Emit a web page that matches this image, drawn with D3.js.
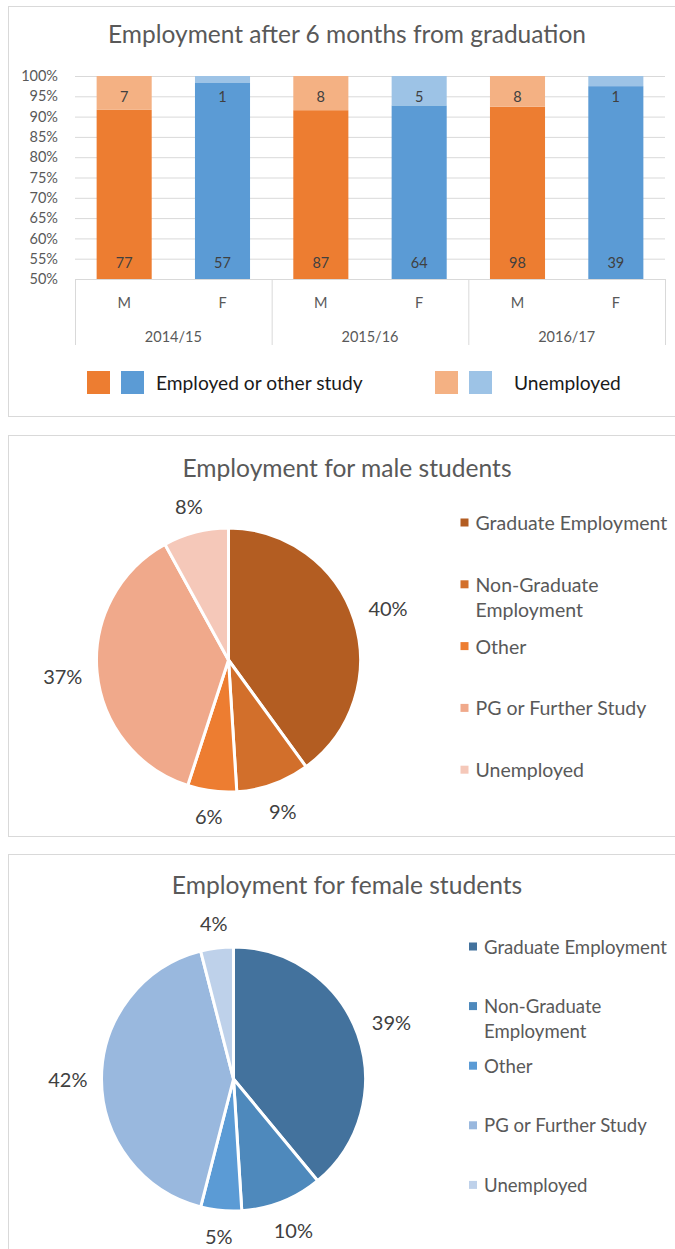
<!DOCTYPE html>
<html>
<head>
<meta charset="utf-8">
<script src="https://cdn.jsdelivr.net/npm/d3@7"></script>
<style>
  html, body { margin: 0; padding: 0; background: #fff; }
  svg { display: block; font-family: Lato, "Open Sans", sans-serif; }
</style>
</head>
<body>
<svg id="page" width="675" height="1249"></svg>
<script>
// ---- stacked bar data (counts per cohort and gender) ----
const years = ["2014/15", "2015/16", "2016/17"];
const genders = ["M", "F"];
const employedCounts = [77, 57, 87, 64, 98, 39];
const unemployedCounts = [7, 1, 8, 5, 8, 1];
const yTickValues = [0.5, 0.55, 0.6, 0.65, 0.7, 0.75, 0.8, 0.85, 0.9, 0.95, 1.0];
const barLegendLabels = ["Employed or other study", "Unemployed"];

// ---- pie data (percent shares) ----
const outcomeCategories = ["Graduate Employment", "Non-Graduate Employment", "Other", "PG or Further Study", "Unemployed"];
const maleShares = [40, 9, 6, 37, 8];
const femaleShares = [39, 10, 5, 42, 4];

// ---- palette ----
const maleColor = "#ED7D31", femaleColor = "#5B9BD5";
const maleLight = "#F4B183", femaleLight = "#9DC3E6";
const malePalette = ["#B35D22", "#D26F2B", "#ED7D31", "#F0A98B", "#F5C8B9"];
const femalePalette = ["#43729D", "#4E89BC", "#5B9BD5", "#99B8DE", "#BED1EA"];

const svg = d3.select("#page");
const grid = "#d9d9d9";
const textGrey = "#595959";
const labelGrey = "#404040";

// chart frames
function frame(y0, y1) {
  svg.append("rect")
    .attr("x", 8.5).attr("y", y0 + 0.5)
    .attr("width", 680).attr("height", y1 - y0)
    .attr("fill", "none").attr("stroke", grid).attr("stroke-width", 1);
}
frame(6, 416);
frame(435, 836);
frame(854, 1300);

// =================== 100% stacked bar chart ===================
const rows = [];
years.forEach((yr, yi) => genders.forEach((g, gi) => {
  const i = yi * genders.length + gi;
  const total = employedCounts[i] + unemployedCounts[i];
  rows.push({
    key: yr + "|" + g, year: yr, gender: g,
    employed: employedCounts[i], unemployed: unemployedCounts[i],
    empShare: employedCounts[i] / total
  });
}));

const plot = { left: 75, right: 665, top: 76, bottom: 279 };
const x = d3.scaleBand().domain(rows.map(d => d.key))
  .range([plot.left, plot.right]).paddingInner(0.44).paddingOuter(0.22);
const y = d3.scaleLinear().domain([0.5, 1]).range([plot.bottom, plot.top]);

svg.append("text")
  .attr("x", 347).attr("y", 43)
  .attr("text-anchor", "middle")
  .attr("font-size", 24.5).attr("fill", textGrey)
  .text("Employment after 6 months from graduation");

// gridlines
svg.append("g").selectAll("line").data(yTickValues.filter(v => v > 0.5)).join("line")
  .attr("x1", plot.left).attr("x2", plot.right)
  .attr("y1", d => y(d) + 0.5).attr("y2", d => y(d) + 0.5)
  .attr("stroke", grid).attr("stroke-width", 1);

// y axis labels
const yAxis = d3.axisLeft(y).tickValues(yTickValues).tickFormat(d3.format(".0%")).tickSize(0).tickPadding(17);
const yg = svg.append("g").attr("transform", `translate(${plot.left},0)`).call(yAxis);
yg.select(".domain").remove();
yg.selectAll("text").attr("font-size", 14.5).attr("fill", textGrey).attr("font-family", "Lato, sans-serif");

// bars (clipped to the visible 50%-100% window)
svg.append("clipPath").attr("id", "plotClip").append("rect")
  .attr("x", plot.left).attr("y", plot.top)
  .attr("width", plot.right - plot.left).attr("height", plot.bottom - plot.top);
const bars = svg.append("g").attr("clip-path", "url(#plotClip)");
bars.selectAll("rect.emp").data(rows).join("rect").attr("class", "emp")
  .attr("x", d => x(d.key)).attr("width", x.bandwidth())
  .attr("y", d => y(d.empShare)).attr("height", d => y(0.5) - y(d.empShare))
  .attr("fill", d => d.gender === "M" ? maleColor : femaleColor);
bars.selectAll("rect.unemp").data(rows).join("rect").attr("class", "unemp")
  .attr("x", d => x(d.key)).attr("width", x.bandwidth())
  .attr("y", y(1)).attr("height", d => y(d.empShare) - y(1))
  .attr("fill", d => d.gender === "M" ? maleLight : femaleLight);

// data labels
svg.append("g").selectAll("text").data(rows).join("text")
  .attr("x", d => x(d.key) + x.bandwidth() / 2).attr("y", y(0.5) - 17)
  .attr("text-anchor", "middle").attr("dominant-baseline", "central")
  .attr("font-size", 14.5).attr("fill", labelGrey)
  .text(d => d.employed);
svg.append("g").selectAll("text").data(rows).join("text")
  .attr("x", d => x(d.key) + x.bandwidth() / 2).attr("y", y(1) + 20)
  .attr("text-anchor", "middle").attr("dominant-baseline", "central")
  .attr("font-size", 14.5).attr("fill", labelGrey)
  .text(d => d.unemployed);

// category axis (gender row + cohort row)
svg.append("line")
  .attr("x1", plot.left).attr("x2", plot.right)
  .attr("y1", plot.bottom + 0.5).attr("y2", plot.bottom + 0.5)
  .attr("stroke", grid);
const step = x.step();
const groupEdges = d3.range(years.length + 1).map(i => plot.left + i * genders.length * step);
svg.append("g").selectAll("line").data(groupEdges).join("line")
  .attr("x1", d => d + 0.5).attr("x2", d => d + 0.5)
  .attr("y1", plot.bottom).attr("y2", plot.bottom + 66)
  .attr("stroke", grid);
svg.append("g").selectAll("text").data(rows).join("text")
  .attr("x", d => x(d.key) + x.bandwidth() / 2).attr("y", plot.bottom + 23)
  .attr("text-anchor", "middle").attr("dominant-baseline", "central")
  .attr("font-size", 14.5).attr("fill", textGrey)
  .text(d => d.gender);
svg.append("g").selectAll("text").data(years).join("text")
  .attr("x", (d, i) => (groupEdges[i] + groupEdges[i + 1]) / 2).attr("y", plot.bottom + 57)
  .attr("text-anchor", "middle").attr("dominant-baseline", "central")
  .attr("font-size", 14.5).attr("fill", textGrey)
  .text(d => d);

// legend
const legendItems = [
  { label: barLegendLabels[0], colors: [maleColor, femaleColor], x: 87, tx: 156 },
  { label: barLegendLabels[1], colors: [maleLight, femaleLight], x: 435, tx: 514 }
];
legendItems.forEach(item => {
  item.colors.forEach((c, i) => {
    svg.append("rect").attr("x", item.x + i * 34).attr("y", 371)
      .attr("width", 23).attr("height", 23).attr("fill", c);
  });
  svg.append("text").attr("x", item.tx).attr("y", 382.5)
    .attr("dominant-baseline", "central")
    .attr("font-size", 19.2).attr("fill", "#1a1a1a")
    .text(item.label);
});

// =================== pies ===================
function pieChart(cfg) {
  const g = svg.append("g");
  g.append("text")
    .attr("x", 347).attr("y", cfg.titleY)
    .attr("text-anchor", "middle").attr("dominant-baseline", "central")
    .attr("font-size", 24.6).attr("fill", textGrey)
    .text(cfg.title);

  const data = outcomeCategories.map((c, i) => ({ cat: c, value: cfg.values[i], color: cfg.colors[i] }));
  const pie = d3.pie().sort(null).value(d => d.value);
  const arcs = pie(data);
  const r = 132;
  const arc = d3.arc().innerRadius(0).outerRadius(r);
  const pg = g.append("g").attr("transform", `translate(${cfg.cx},${cfg.cy})`);
  pg.selectAll("path").data(arcs).join("path")
    .attr("d", arc).attr("fill", d => d.data.color)
    .attr("stroke", "#fff").attr("stroke-width", 3).attr("stroke-linejoin", "round");

  // outside labels sitting just beyond the rim
  pg.selectAll("text").data(arcs).join("text")
    .attr("text-anchor", "middle").attr("dominant-baseline", "central")
    .attr("font-size", 20).attr("fill", labelGrey)
    .text(d => d.data.value + "%")
    .each(function (d) {
      const w = this.getComputedTextLength();
      const h = 20;
      const a = (d.startAngle + d.endAngle) / 2;
      const s = Math.sin(a), c = Math.cos(a);
      const dist = r + 14 + Math.abs(s) * w / 2 + Math.abs(c) * h / 2;
      d3.select(this).attr("x", s * dist).attr("y", -c * dist);
    });

  // legend
  const lg = g.append("g");
  data.forEach((d, i) => {
    const yy = cfg.legendY + i * cfg.legendStep;
    const lines = d.cat.length > 20 ? [d.cat.slice(0, d.cat.indexOf(" ")), d.cat.slice(d.cat.indexOf(" ") + 1)] : [d.cat];
    lg.append("rect").attr("x", cfg.legendX).attr("y", yy - 4)
      .attr("width", 8).attr("height", 8).attr("fill", d.color);
    lines.forEach((ln, li) => {
      lg.append("text").attr("x", cfg.legendX + 15).attr("y", yy + li * 25)
        .attr("dominant-baseline", "central")
        .attr("font-size", cfg.legendFont).attr("fill", textGrey)
        .text(ln);
    });
  });
}

pieChart({
  title: "Employment for male students", titleY: 467,
  values: maleShares, colors: malePalette,
  cx: 228.5, cy: 660, legendX: 460.5, legendY: 522.5, legendStep: 61.8, legendFont: 19.5
});
pieChart({
  title: "Employment for female students", titleY: 884,
  values: femaleShares, colors: femalePalette,
  cx: 233.5, cy: 1079, legendX: 469, legendY: 946.5, legendStep: 59.6, legendFont: 18.6
});
</script>
</body>
</html>
